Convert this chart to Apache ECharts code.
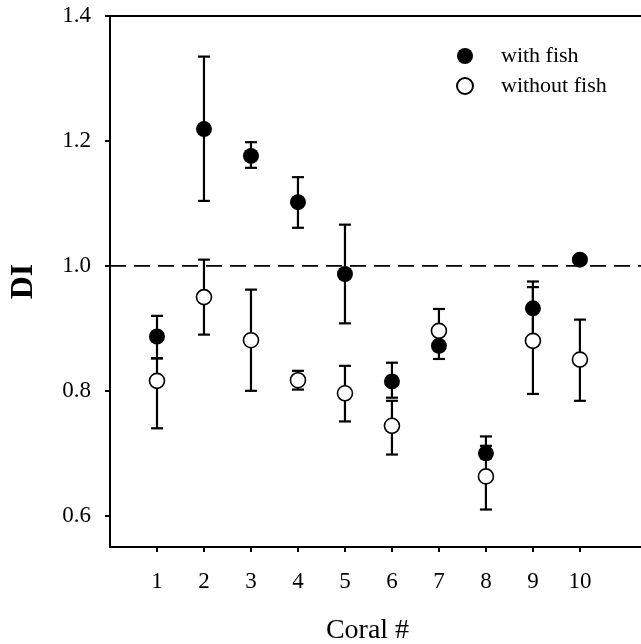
<!DOCTYPE html>
<html>
<head>
<meta charset="utf-8">
<script src="https://cdn.jsdelivr.net/npm/echarts@6/dist/echarts.min.js"></script>
<style>html,body{margin:0;padding:0;background:#fff}#c{width:641px;height:644px}</style>
</head>
<body>
<div id="c"></div>
<script>
var coral = [1, 2, 3, 4, 5, 6, 7, 8, 9, 10];
var xTicks = [1, 2, 3, 4, 5, 6, 7, 8, 9, 10];
var yTicks = [0.6, 0.8, 1.0, 1.2, 1.4];
var withFish = [0.887, 1.219, 1.176, 1.102, 0.987, 0.815, 0.872, 0.700, 0.932, 1.010];
var withFishLow = [0.852, 1.104, 1.157, 1.061, 0.908, 0.789, 0.851, 0.692, 0.885, 1.005];
var withFishHigh = [0.920, 1.335, 1.198, 1.142, 1.066, 0.845, 0.890, 0.727, 0.975, 1.015];
var withoutFish = [0.816, 0.950, 0.881, 0.817, 0.796, 0.744, 0.896, 0.663, 0.880, 0.850];
var withoutFishLow = [0.740, 0.890, 0.800, 0.802, 0.751, 0.698, 0.872, 0.610, 0.795, 0.784];
var withoutFishHigh = [0.852, 1.010, 0.962, 0.832, 0.840, 0.784, 0.931, 0.712, 0.966, 0.914];
var refLevel = 1.0;

var FONT = 'Liberation Serif';
function pts(v) { return coral.map(function (c, i) { return [c, v[i]]; }); }
function bars(lo, hi) { return coral.map(function (c, i) { return [c, lo[i], hi[i]]; }); }

function errRender(params, api) {
  var x = api.value(0);
  var p1 = api.coord([x, api.value(1)]);
  var p2 = api.coord([x, api.value(2)]);
  var hw = 6;
  var st = { stroke: '#000', lineWidth: 2.2 };
  return {
    type: 'group',
    children: [
      { type: 'line', shape: { x1: p1[0], y1: p1[1], x2: p2[0], y2: p2[1] }, style: st },
      { type: 'line', shape: { x1: p1[0] - hw, y1: p1[1], x2: p1[0] + hw, y2: p1[1] }, style: st },
      { type: 'line', shape: { x1: p2[0] - hw, y1: p2[1], x2: p2[0] + hw, y2: p2[1] }, style: st }
    ]
  };
}

var chart = echarts.init(document.getElementById('c'), null, { renderer: 'canvas' });
chart.setOption({
  backgroundColor: '#fff',
  animation: false,
  grid: { left: 110, top: 16, right: 0, bottom: 97, containLabel: false, outerBoundsMode: 'none' },
  legend: {
    orient: 'vertical',
    left: 451,
    top: 40,
    itemWidth: 16,
    itemHeight: 16,
    itemGap: 8,
    icon: 'circle',
    textStyle: { fontFamily: FONT, fontSize: 22, color: '#000', padding: [0, 0, 0, 23] },
    data: ['with fish', 'without fish']
  },
  xAxis: [{
    type: 'value', min: 0, max: 11.3, position: 'bottom',
    name: 'Coral #', nameLocation: 'middle', nameGap: 70,
    nameTextStyle: { fontFamily: FONT, fontSize: 28, color: '#000', padding: [0, 16, 0, 0] },
    splitLine: { show: false },
    axisLine: { show: true, onZero: false, lineStyle: { color: '#000', width: 2 } },
    axisTick: { show: true, length: 5, customValues: xTicks, lineStyle: { color: '#000', width: 2 } },
    axisLabel: { customValues: xTicks, margin: 23, fontFamily: FONT, fontSize: 23, color: '#000' }
  }, {
    type: 'value', min: 0, max: 11.3, position: 'top',
    splitLine: { show: false },
    axisLine: { show: true, onZero: false, lineStyle: { color: '#000', width: 2 } },
    axisTick: { show: false }, axisLabel: { show: false }
  }],
  yAxis: {
    type: 'value', min: 0.55, max: 1.4,
    name: 'DI', nameLocation: 'middle', nameGap: 70,
    nameTextStyle: { fontFamily: FONT, fontSize: 32, fontWeight: 'bold', color: '#000' },
    splitLine: { show: false },
    axisLine: { show: true, onZero: false, lineStyle: { color: '#000', width: 2 } },
    axisTick: { show: true, length: 5, customValues: yTicks, lineStyle: { color: '#000', width: 2 } },
    axisLabel: { customValues: yTicks, margin: 19, fontFamily: FONT, fontSize: 23, color: '#000',
      padding: [5, 0, 0, 0],
      formatter: function (v) { return v.toFixed(1); } }
  },
  series: [
    {
      type: 'line', name: 'ref', data: [[0, refLevel], [11.3, refLevel]],
      symbol: 'none', silent: true, z: 1,
      lineStyle: { color: '#000', width: 1.8, type: [16, 8] }
    },
    { type: 'custom', name: 'err1', renderItem: errRender, data: bars(withFishLow, withFishHigh), z: 2, silent: true },
    { type: 'custom', name: 'err2', renderItem: errRender, data: bars(withoutFishLow, withoutFishHigh), z: 2, silent: true },
    {
      type: 'scatter', name: 'without fish', data: pts(withoutFish), symbol: 'circle', symbolSize: 15, z: 3,
      itemStyle: { color: '#fff', borderColor: '#000', borderWidth: 1.6, opacity: 1 }
    },
    {
      type: 'scatter', name: 'with fish', data: pts(withFish), symbol: 'circle', symbolSize: 16, z: 4,
      itemStyle: { color: '#000', borderColor: '#000', borderWidth: 0, opacity: 1 }
    }
  ]
});
</script>
</body>
</html>
